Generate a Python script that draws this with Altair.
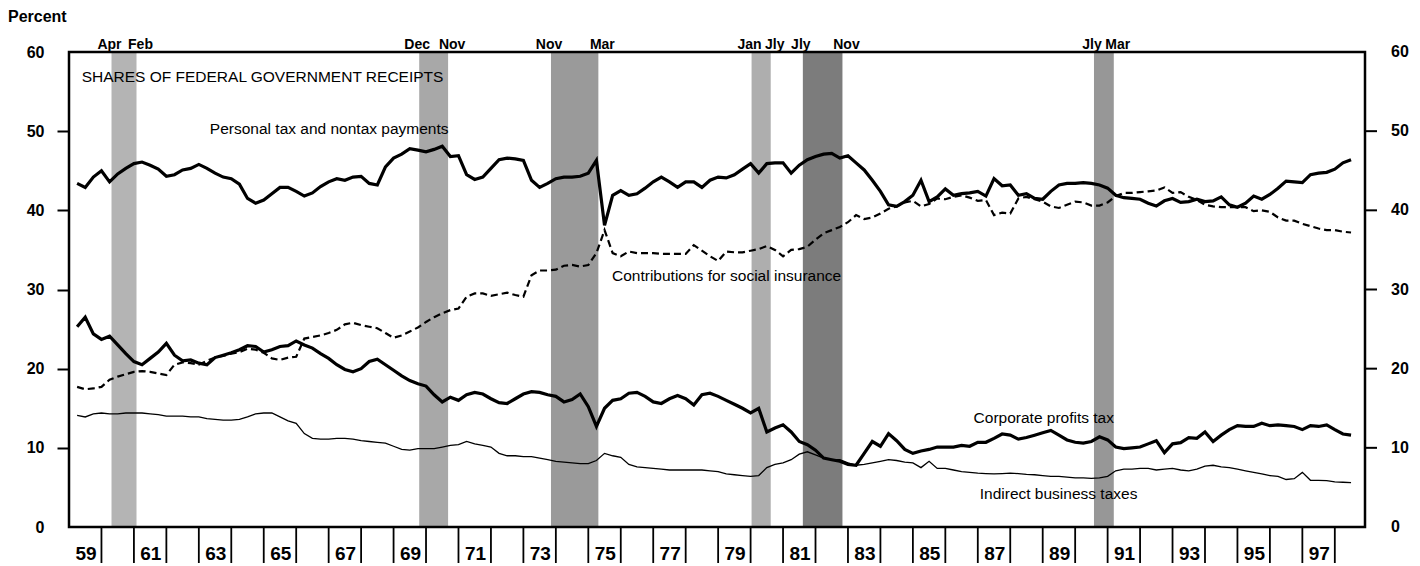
import altair as alt
import pandas as pd

# ---------------- data (quarterly, 1959Q1 - 1998Q2), percent of receipts -------------
personal = [
    43.4, 42.9, 44.2, 45.0,  43.6, 44.6, 45.3, 45.9,  46.1, 45.7, 45.2, 44.3,
    44.5, 45.1, 45.3, 45.8,  45.3, 44.7, 44.2, 44.0,  43.3, 41.5, 40.9, 41.3,
    42.1, 42.9, 42.9, 42.4,  41.8, 42.2, 43.0, 43.6,  44.0, 43.8, 44.2, 44.3,
    43.4, 43.2, 45.5, 46.6,  47.1, 47.8, 47.6, 47.4,  47.7, 48.1, 46.8, 46.9,
    44.5, 43.9, 44.2, 45.3,  46.4, 46.6, 46.5, 46.3,  43.8, 42.9, 43.4, 44.0,
    44.2, 44.2, 44.3, 44.7,  46.3, 38.1, 41.9, 42.5,  41.9, 42.1, 42.8, 43.6,
    44.2, 43.6, 42.9, 43.6,  43.6, 42.9, 43.8, 44.2,  44.1, 44.5, 45.2, 45.9,
    44.7, 45.9, 46.0, 46.0,  44.7, 45.7, 46.4, 46.8,  47.1, 47.2, 46.6, 46.9,
    46.0, 45.1, 43.8, 42.4,  40.7, 40.5, 41.1, 41.9,  43.8, 41.1, 41.7, 42.7,
    41.9, 42.1, 42.2, 42.4,  41.8, 44.0, 43.1, 43.2,  41.9, 42.1, 41.5, 41.4,
    42.4, 43.2, 43.4, 43.4,  43.5, 43.4, 43.2, 42.8,  41.9, 41.6, 41.5, 41.4,
    40.9, 40.55, 41.2, 41.5, 41.0, 41.1, 41.4, 41.1,  41.2, 41.7, 40.7, 40.4,
    40.9, 41.8, 41.4, 42.0,  42.8, 43.7, 43.6, 43.5,  44.5, 44.7, 44.8, 45.2,
    46.0, 46.4,
]
social = [
    17.7, 17.4, 17.5, 17.7,  18.6, 19.0, 19.3, 19.6,  19.7, 19.6, 19.4, 19.2,
    20.5, 20.8, 20.7, 20.5,  21.0, 21.4, 21.6, 21.9,  22.1, 22.5, 22.4, 22.0,
    21.3, 21.1, 21.4, 21.5,  23.8, 24.0, 24.2, 24.5,  24.9, 25.6, 25.8, 25.5,
    25.3, 25.1, 24.5, 23.9,  24.2, 24.7, 25.2, 25.9,  26.5, 27.0, 27.4, 27.6,
    29.1, 29.5, 29.5, 29.2,  29.4, 29.6, 29.3, 29.1,  31.8, 32.4, 32.4, 32.5,
    33.0, 33.1, 32.9, 33.1,  34.6, 37.5, 34.6, 34.2,  34.8, 34.6, 34.6, 34.6,
    34.5, 34.5, 34.5, 34.5,  35.6, 34.9, 34.2, 33.6,  34.8, 34.7, 34.7, 34.9,
    35.1, 35.5, 35.0, 34.2,  35.0, 35.1, 35.4, 36.3,  37.1, 37.5, 37.9, 38.5,
    39.4, 38.9, 39.1, 39.6,  40.2, 40.5, 41.0, 41.2,  40.5, 40.8, 41.5, 41.4,
    41.7, 41.9, 41.6, 41.2,  41.3, 39.4, 39.7, 39.6,  41.5, 41.7, 41.4, 41.1,
    40.5, 40.3, 40.7, 41.1,  41.0, 40.6, 40.6, 41.0,  41.8, 42.2, 42.2, 42.3,
    42.4, 42.5, 42.9, 42.2,  42.3, 41.7, 41.3, 40.7,  40.5, 40.4, 40.4, 40.4,
    40.4, 39.9, 40.0, 39.8,  39.1, 38.7, 38.7, 38.3,  38.0, 37.7, 37.5, 37.5,
    37.3, 37.2,
]
corporate = [
    25.3, 26.5, 24.4, 23.7,  24.1, 23.0, 21.9, 20.9,  20.5, 21.3, 22.1, 23.2,
    21.7, 21.0, 21.1, 20.7,  20.5, 21.4, 21.7, 22.0,  22.4, 22.9, 22.8, 22.1,
    22.4, 22.8, 22.9, 23.5,  23.0, 22.6, 21.9, 21.3,  20.5, 19.9, 19.6, 20.0,
    20.9, 21.2, 20.5, 19.8,  19.1, 18.5, 18.1, 17.8,  16.7, 15.8, 16.4, 16.0,
    16.7, 17.0, 16.8, 16.2,  15.7, 15.6, 16.2, 16.8,  17.1, 17.0, 16.7, 16.5,
    15.8, 16.1, 16.8, 15.2,  12.7, 15.0, 16.0, 16.2,  16.9, 17.0, 16.5, 15.8,
    15.6, 16.2, 16.6, 16.2,  15.4, 16.7, 16.9, 16.5,  16.0, 15.5, 15.0, 14.4,
    15.0, 12.0, 12.5, 12.9,  12.0, 10.8, 10.4, 9.7,   8.7, 8.5, 8.3, 7.9,
    7.8, 9.3, 10.8, 10.2,    11.8, 10.9, 9.8, 9.3,    9.6, 9.8, 10.1, 10.1,
    10.1, 10.3, 10.2, 10.7,  10.7, 11.2, 11.75, 11.6, 11.1, 11.3, 11.6, 11.9,
    12.2, 11.6, 11.0, 10.7,  10.6, 10.8, 11.4, 11.0,  10.1, 9.9, 10.0, 10.1,
    10.5, 10.9, 9.4, 10.5,   10.65, 11.3, 11.2, 12.0, 10.8, 11.6, 12.3, 12.8,
    12.7, 12.7, 13.1, 12.8,  12.9, 12.8, 12.7, 12.3,  12.8, 12.7, 12.9, 12.3,
    11.75, 11.6,
]
indirect = [
    14.1, 13.9, 14.3, 14.4,  14.3, 14.3, 14.4, 14.4,  14.4, 14.3, 14.2, 14.0,
    14.0, 14.0, 13.9, 13.9,  13.7, 13.6, 13.5, 13.5,  13.6, 13.9, 14.3, 14.4,
    14.4, 13.9, 13.4, 13.1,  11.8, 11.2, 11.1, 11.1,  11.2, 11.2, 11.1, 10.9,
    10.8, 10.7, 10.6, 10.2,  9.8, 9.7, 9.9, 9.9,      9.9, 10.1, 10.3, 10.4,
    10.8, 10.5, 10.3, 10.1,  9.3, 9.0, 9.0, 8.9,      8.9, 8.7, 8.5, 8.3,
    8.2, 8.1, 8.0, 8.0,      8.4, 9.3, 9.0, 8.8,      7.9, 7.6, 7.5, 7.4,
    7.3, 7.2, 7.2, 7.2,      7.2, 7.2, 7.1, 7.0,      6.7, 6.6, 6.5, 6.4,
    6.5, 7.5, 7.9, 8.1,      8.5, 9.2, 9.5, 9.1,      8.7, 8.5, 8.5, 8.1,
    7.8, 7.9, 8.1, 8.3,      8.5, 8.4, 8.2, 8.1,      7.5, 8.3, 7.4, 7.4,
    7.2, 7.0, 6.9, 6.8,      6.75, 6.7, 6.75, 6.8,    6.75, 6.65, 6.6, 6.5,
    6.4, 6.4, 6.3, 6.2,      6.2, 6.15, 6.2, 6.4,     7.1, 7.3, 7.3, 7.4,
    7.4, 7.2, 7.3, 7.4,      7.2, 7.1, 7.3, 7.7,      7.8, 7.6, 7.5, 7.3,
    7.1, 6.9, 6.7, 6.5,      6.4, 6.0, 6.1, 6.9,      5.9, 5.9, 5.85, 5.7,
    5.65, 5.6,
]

# recessions (decimal years as drawn) and their month labels
rec_start = [1960.31, 1969.79, 1973.85, 1980.03, 1981.61, 1990.58]
rec_end = [1961.08, 1970.68, 1975.31, 1980.62, 1982.83, 1991.19]
rec_start_label = ["Apr", "Dec", "Nov", "Jan", "Jly", "Jly"]
rec_end_label = ["Feb", "Nov", "Mar", "Jly", "Nov", "Mar"]

# series annotations (anchor in data units: year, percent)
note_text = ["SHARES OF FEDERAL GOVERNMENT RECEIPTS",
             "Personal tax and nontax payments",
             "Contributions for social insurance",
             "Corporate profits tax",
             "Indirect business taxes"]
note_year = [1959.39, 1963.34, 1975.73, 1986.87, 1987.06]
note_value = [56.2, 49.6, 31.1, 13.1, 3.5]

# year boundaries (ticks); each odd year is labelled inside its own slot
year_ticks = list(range(1960, 1999))
pct_ticks = [0, 10, 20, 30, 40, 50, 60]

# ---------------- styling ----------------
W, H = 1296, 475          # plotting frame
TICK_LEN = 36             # year ticks hang below the frame
HV = H + TICK_LEN         # view height (frame + tick strip)
FIRST_Q = 1959.25
band_shades = ["#b4b4b4", "#a8a8a8", "#9a9a9a", "#aeaeae", "#7c7c7c", "#979797"]
LABEL_FONT = "Liberation Sans"


def series_frame(vals):
    return pd.DataFrame({"t": [FIRST_Q + 0.25 * k for k in range(len(vals))],
                         "v": vals})


xs = alt.Scale(domain=[1959, 1998.93], nice=False, zero=False)
ys = alt.Scale(domain=[0, 60], range=[H, 0], nice=False, zero=True)

x_axis = alt.Axis(
    values=year_ticks, title=None, grid=False, domain=False, ticks=False,
    labelExpr="datum.value % 2 == 0 ? substring(toString(datum.value - 1), 2, 4) : ''",
    labelOffset=-16, labelPadding=-19, labelAlign="center", labelBaseline="top",
    labelFont=LABEL_FONT, labelFontWeight="bold", labelFontSize=19,
    labelColor="black", labelFlush=False, labelOverlap=False,
)

y_axis = alt.Axis(
    orient="left", values=pct_ticks, title=None, grid=False, domain=False,
    tickSize=12, tickWidth=2, tickColor="black",
    tickOpacity={"condition": {"test": "datum.value == 0 || datum.value == 60",
                               "value": 0}, "value": 1},
    labelPadding=13, labelFont=LABEL_FONT, labelFontWeight="bold",
    labelFontSize=16, labelColor="black", labelFlush=False,
)


def xenc(field):
    return alt.X(field, scale=xs, axis=x_axis)


def yenc(field):
    return alt.Y(field, scale=ys, axis=y_axis)


bands_df = pd.DataFrame({"start": rec_start, "end": rec_end,
                         "band": list(range(len(rec_start)))})
bands = alt.Chart(bands_df).mark_rect().encode(
    x=xenc("start:Q"),
    x2="end:Q",
    y=alt.value(0),
    y2=alt.value(H),
    color=alt.Color("band:N", scale=alt.Scale(domain=list(range(len(rec_start))),
                                              range=band_shades), legend=None),
)

# frame around the plotting area
frame = alt.Chart(pd.DataFrame({"f": [0]})).mark_rect(
    filled=False, stroke="black", strokeWidth=2.5,
).encode(x=alt.value(0), x2=alt.value(W), y=alt.value(0), y2=alt.value(H))

# year-boundary tick marks below the frame
ticks_df = pd.DataFrame({"t": year_ticks})
year_tick_marks = alt.Chart(ticks_df).mark_rule(
    color="black", strokeWidth=1.8,
).encode(x=xenc("t:Q"), y=alt.value(H), y2=alt.value(HV))

# right-hand percent scale (same values as the left one)
right_df = pd.DataFrame({"v": pct_ticks})
right_ticks = alt.Chart(right_df).transform_filter(
    "datum.v > 0 && datum.v < 60"
).mark_rule(color="black", strokeWidth=2, clip=False).encode(
    x=alt.value(W), x2=alt.value(W + 12), y=yenc("v:Q"))
right_labels = alt.Chart(right_df).mark_text(
    font=LABEL_FONT, fontWeight="bold", fontSize=16, color="black",
    align="left", baseline="middle", clip=False,
).encode(x=alt.value(W + 26), y=yenc("v:Q"), text=alt.Text("v:Q", format="d"))


def line(vals, **style):
    return alt.Chart(series_frame(vals)).mark_line(color="black", **style).encode(
        x=xenc("t:Q"),
        y=yenc("v:Q"),
    )


l_personal = line(personal, strokeWidth=3.2)
l_social = line(social, strokeWidth=2.2, strokeDash=[7, 4])
l_corporate = line(corporate, strokeWidth=3.2)
l_indirect = line(indirect, strokeWidth=1.3)

rs_df = pd.DataFrame({"t": rec_start, "label": rec_start_label})
re_df = pd.DataFrame({"t": rec_end, "label": rec_end_label})


def rec_text(df, dx):
    return alt.Chart(df).mark_text(
        font=LABEL_FONT, fontWeight="bold", fontSize=14, color="black",
        align="center", baseline="alphabetic", dx=dx,
    ).encode(x=xenc("t:Q"), y=alt.value(-3), text="label:N")


t_start = rec_text(rs_df, -2)
t_end = rec_text(re_df, 4)

notes_df = pd.DataFrame({"t": note_year, "v": note_value, "label": note_text})
notes = alt.Chart(notes_df).mark_text(
    font=LABEL_FONT, fontSize=15.5, color="black", align="left", baseline="alphabetic",
).encode(
    x=xenc("t:Q"),
    y=yenc("v:Q"),
    text="label:N",
)

unit_df = pd.DataFrame({"label": ["Percent"]})
unit = alt.Chart(unit_df).mark_text(
    font=LABEL_FONT, fontWeight="bold", fontSize=16, color="black",
    align="left", baseline="alphabetic",
).encode(x=alt.value(-61), y=alt.value(-30.5), text="label:N")

chart = alt.layer(
    bands, l_indirect, l_social, l_corporate, l_personal, frame, year_tick_marks,
    notes, t_start, t_end, unit, right_ticks, right_labels,
).properties(
    width=W, height=HV, autosize="none",
    padding={"left": 61, "top": 44, "right": 47, "bottom": 1},
    background="white",
).configure_view(stroke="transparent")

chart.save("out.html", embed_options={"renderer": "svg", "actions": False})
